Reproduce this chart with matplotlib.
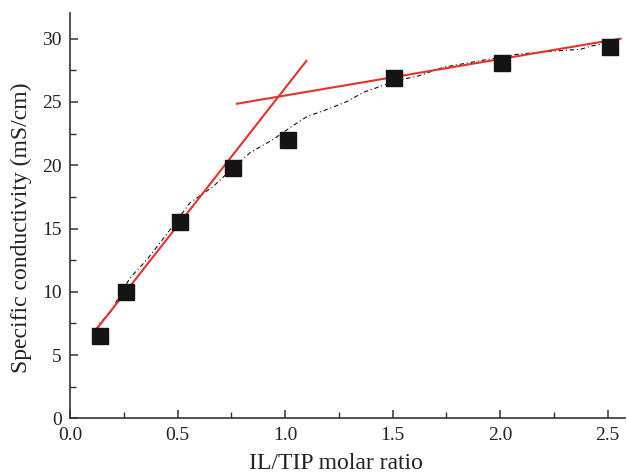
import matplotlib
matplotlib.use("Agg")
import matplotlib.pyplot as plt
from matplotlib.ticker import MultipleLocator

plt.rcParams['font.family'] = ['Liberation Serif', 'DejaVu Serif']

# measured points
ratio = [0.14, 0.26, 0.51, 0.76, 1.015, 1.508, 2.008, 2.512]
cond = [6.5, 10.0, 15.55, 19.75, 21.98, 26.86, 28.1, 29.33]

# dash-dot guide curve
curve_x = [0.12, 0.14, 0.186, 0.279, 0.358, 0.466, 0.559, 0.666, 0.736, 0.838,
           0.945, 1.024, 1.103, 1.196, 1.289, 1.364, 1.457, 1.522, 1.616,
           1.737, 1.895, 2.081, 2.235, 2.374, 2.42, 2.48]
curve_y = [7.0, 7.55, 8.34, 11.1, 12.54, 14.92, 17.05, 18.32, 19.43, 21.0,
           22.04, 22.98, 23.86, 24.41, 25.04, 25.76, 26.31, 26.71, 27.03,
           27.74, 28.22, 28.77, 29.0, 29.16, 29.4, 29.6]

# linear fits (red)
fit1_x = [0.112, 1.099]
fit1_y = [6.8, 28.24]
fit2_x = [0.776, 2.56]
fit2_y = [24.86, 30.0]

fig = plt.figure(figsize=(6.27, 4.76), dpi=100)
ax = fig.add_axes([0.1116, 0.121, 0.885, 0.851])

ax.plot(curve_x, curve_y, color='#111111', lw=0.8, linestyle=(0, (4, 2.5, 1, 2.5)))
ax.plot(fit1_x, fit1_y, color='#e8312a', lw=1.5)
ax.plot(fit2_x, fit2_y, color='#e8312a', lw=1.5)
ax.plot(ratio, cond, linestyle='none', marker='s', markersize=11,
        color='#141414', zorder=3)

ax.set_xlim(0, 2.58)
ax.set_ylim(0, 32)
ax.xaxis.set_major_locator(MultipleLocator(0.5))
ax.xaxis.set_minor_locator(MultipleLocator(0.25))
ax.yaxis.set_major_locator(MultipleLocator(5))
ax.yaxis.set_minor_locator(MultipleLocator(2.5))
ax.xaxis.set_major_formatter(plt.FuncFormatter(lambda v, p: '%.1f' % v))

for s in ['top', 'right']:
    ax.spines[s].set_visible(False)
for s in ['left', 'bottom']:
    ax.spines[s].set_color('#333333')
    ax.spines[s].set_linewidth(1.2)

ax.tick_params(which='major', direction='in', length=6, width=1.1,
               labelsize=14, colors='#333333', labelcolor='#222222', pad=6)
ax.tick_params(which='minor', direction='in', length=4, width=1.0,
               colors='#333333')

ax.set_xlabel('IL/TIP molar ratio', fontsize=17, color='#222222')
ax.set_ylabel('Specific conductivity (mS/cm)', fontsize=17, color='#222222')
ax.xaxis.set_label_coords(0.48, -0.085)
ax.yaxis.set_label_coords(-0.068, 0.471)

fig.savefig('out.png', dpi=100)
